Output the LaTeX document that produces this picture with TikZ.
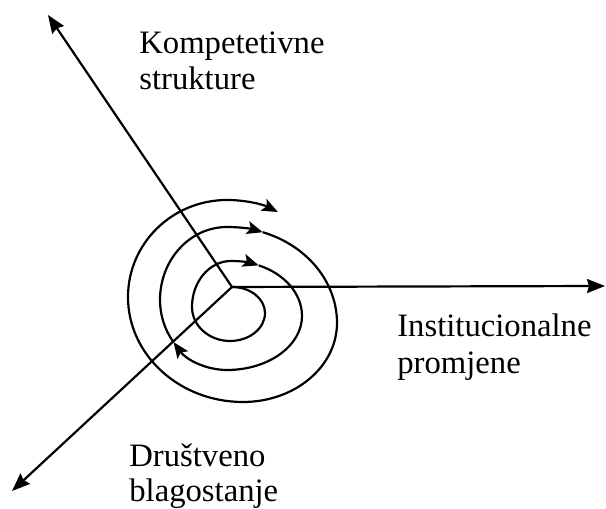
\documentclass[tikz,border=0pt]{standalone}
\usepackage{fontspec}
\setmainfont{Liberation Serif}
\usetikzlibrary{arrows.meta}

\begin{document}
\begin{tikzpicture}[x=0.02cm, y=0.02cm,
        axis/.style={line width=1.25pt, -{Stealth[length=0.36cm, width=0.28cm, inset=0.04cm]}},
        turn/.style={line width=1.25pt},
        turnarrow/.style={line width=1.25pt, -{Stealth[length=0.32cm, width=0.26cm, inset=0.07cm]}},
        lbl/.style={anchor=base west, inner sep=0pt, font=\fontsize{18.6}{21}\selectfont}]
        \useasboundingbox (0,0) rectangle (606,509);

        % -- three axes out of the centre ----------------------------------------
        \coordinate (O) at (232,222);
        \coordinate (komp) at (48,494);
        \coordinate (inst) at (605,223);
        \coordinate (drus) at (12,18);
        \foreach \e in {komp, inst, drus} {
            \draw[axis] (O) -- (\e);
        }

        % -- labels ----------------------------------------------------------------
        \node[lbl] (kompA) at (139,455.7) {Kompetetivne};
        \node[lbl] (kompB) at (139,419) {strukture};
        \node[lbl] (instA) at (397,172.3) {Institucionalne};
        \node[lbl] (instB) at (397,135.7) {promjene};
        \node[lbl] (drusA) at (129,42.3) {Društveno};
        \node[lbl] (drusB) at (129,7.3) {blagostanje};

        % -- spiral, first turn ------------------------------------------------------
        \draw[turn] (O) arc[start angle=90, end angle=0, x radius=33, y radius=26]
            arc[start angle=0, end angle=-90, x radius=35, y radius=28]
            arc[start angle=-90, end angle=-180, x radius=38, y radius=34]
            arc[start angle=180, end angle=90, x radius=39, y radius=46] coordinate (top1);
        \draw[turnarrow] (top1) arc[start angle=90, end angle=67, x radius=71, y radius=55] coordinate (tip1);

        % -- spiral, second turn -----------------------------------------------------
        \draw[turnarrow] (tip1) arc[start angle=67, end angle=0, x radius=71, y radius=55]
            arc[start angle=0, end angle=-90, x radius=75, y radius=54]
            arc[start angle=-90, end angle=-143, x radius=67, y radius=70] coordinate (tip2);
        \draw[turn] (tip2) arc[start angle=-143, end angle=-180, x radius=67, y radius=70]
            arc[start angle=180, end angle=90, x radius=67, y radius=73] coordinate (top2);
        \draw[turnarrow] (top2) arc[start angle=90, end angle=71, x radius=110, y radius=96] coordinate (tip3);

        % -- spiral, third turn ------------------------------------------------------
        \draw[turn] (tip3) arc[start angle=71, end angle=0, x radius=110, y radius=96]
            arc[start angle=0, end angle=-90, x radius=94, y radius=79]
            arc[start angle=-90, end angle=-180, x radius=115, y radius=105]
            arc[start angle=180, end angle=90, x radius=99, y radius=97] coordinate (top3);
        \draw[turnarrow] (top3) arc[start angle=90, end angle=61, x radius=105, y radius=96] coordinate (tip4);
    \end{tikzpicture}
\end{document}
